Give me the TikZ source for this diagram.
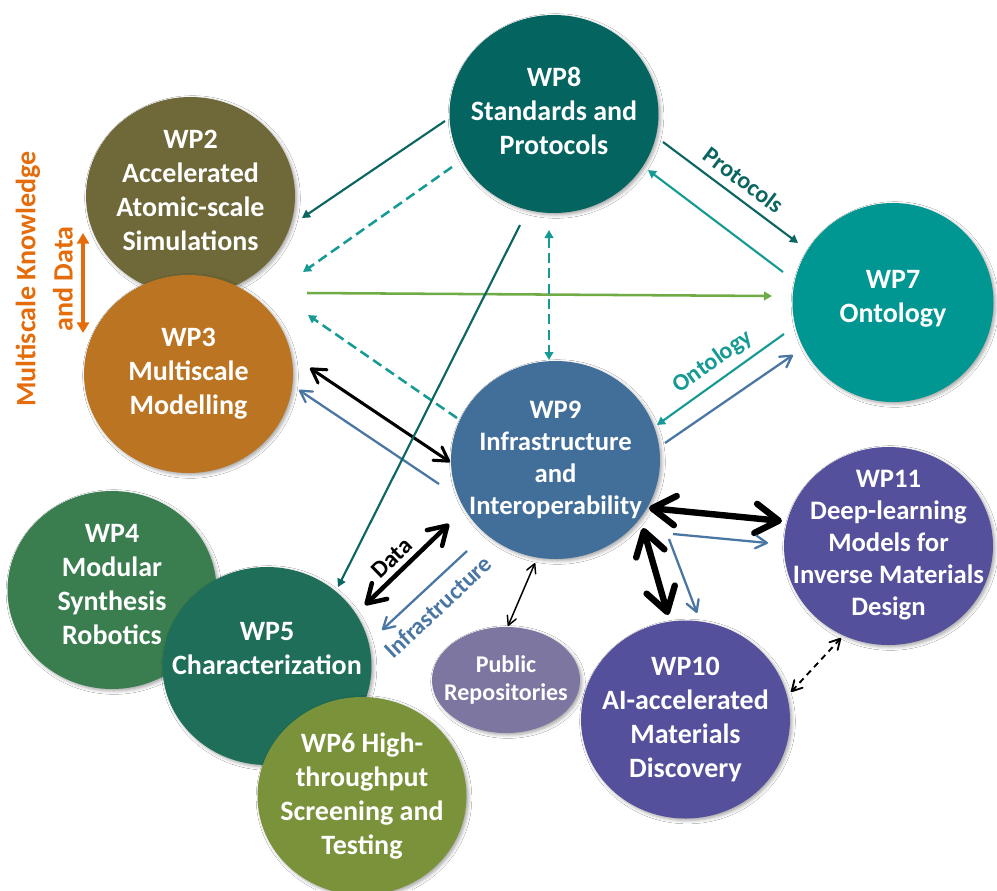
\documentclass[tikz,border=0pt]{standalone}
\usepackage{fontspec}
\setmainfont{Carlito}
\usetikzlibrary{shapes.geometric,arrows.meta,shadows.blur}
\newlength\upx
\setlength\upx{0.75pt}
\definecolor{cwpii}{HTML}{6F6838}
\definecolor{cwpiii}{HTML}{BB7421}
\definecolor{cwpiv}{HTML}{3A7E50}
\definecolor{cwpv}{HTML}{1E6E5A}
\definecolor{cwpvi}{HTML}{7A923A}
\definecolor{cwpvii}{HTML}{009691}
\definecolor{cwpviii}{HTML}{036460}
\definecolor{cwpix}{HTML}{426E9A}
\definecolor{cwpx}{HTML}{54509B}
\definecolor{cpub}{HTML}{7C76A0}
\definecolor{corange}{HTML}{E46C0A}
\definecolor{cgreen}{HTML}{6FAC46}
\definecolor{cblue}{HTML}{4A76A4}
\definecolor{cteal}{HTML}{159A94}
\definecolor{cdkteal}{HTML}{0B6662}
\tikzset{
  obarb/.tip={Straight Barb[length=3.5pt 2.9,width=2.8pt 4,round]},
  ftri/.tip={Triangle[length=6pt,width=6.5pt]},
  otri/.tip={Triangle[length=8pt,width=9pt]},
  wp/.style={ellipse, inner sep=0pt, minimum width=209\upx, minimum height=198\upx,
    blur shadow={shadow xshift=1.5pt, shadow yshift=-1.5pt, shadow blur radius=2.5pt, shadow opacity=35}},
  wptext/.style={inner sep=0pt, text=white, align=center, font=\bfseries\fontsize{21}{25.5}\selectfont},
  wptextsmall/.style={wptext, font=\bfseries\fontsize{20}{24}\selectfont},
  lbl/.style={font=\bfseries\fontsize{18}{21}\selectfont, inner sep=0pt},
  dktealline/.style={draw=cdkteal, line width=1.6pt},
  tealline/.style={draw=cteal, line width=1.6pt},
  tealdash/.style={draw=cteal, line width=1.9pt, dash pattern=on 7.5pt off 4pt},
  blueline/.style={draw=cblue, line width=1.7pt},
  greenline/.style={draw=cgreen, line width=1.9pt},
}
\begin{document}
\begin{tikzpicture}[x=0.75pt,y=-0.75pt]
\clip (0,0) rectangle (997,890);
\fill[white] (0,0) rectangle (997,890);
% circles
\node[wp, fill=cwpii] (wp2) at (190.5,196) {};
\node[wptext] (wp2t) at ([yshift=4pt]wp2.center) {WP2\\Accelerated\\Atomic-scale\\Simulations};
\node[wp, fill=cwpiii] (wp3) at (188.5,374) {};
\node[wptext] (wp3t) at (wp3.center) {WP3\\Multiscale\\Modelling};
\node[wp, fill=cwpiv] (wp4) at (112,590) {};
\node[wptext] (wp4t) at ([yshift=4pt]wp4.center) {WP4\\Modular\\Synthesis\\Robotics};
\node[wp, fill=cwpv] (wp5) at (267,666) {};
\node[wptext] (wp5t) at ([yshift=13pt]wp5.center) {WP5\\Characterization};
\node[wp, fill=cwpvi] (wp6) at (362,796) {};
\node[wptext] (wp6t) at (wp6.center) {WP6 High-\\throughput\\Screening and\\Testing};
\node[wp, fill=cwpviii] (wp8) at (554,114) {};
\node[wptext] (wp8t) at ([yshift=2.5pt]wp8.center) {WP8\\Standards and\\Protocols};
\node[wp, fill=cwpvii, minimum width=201\upx, minimum height=199\upx] (wp7) at (893,302.5) {};
\node[wptext] (wp7t) at ([yshift=2.5pt]wp7.center) {WP7\\Ontology};
\node[wp, fill=cwpix] (wp9) at (555.5,460) {};
\node[wptextsmall] (wp9t) at (wp9.center) {WP9\\Infrastructure\\and\\Interoperability};
\node[wp, fill=cwpx] (wp11) at (888.5,546) {};
\node[wptextsmall] (wp11t) at ([yshift=1pt]wp11.center) {WP11\\Deep-learning\\Models for\\Inverse Materials\\Design};
\node[wp, fill=cwpx] (wp10) at (685.5,719.5) {};
\node[wptext] (wp10t) at (wp10.center) {WP10\\AI-accelerated\\Materials\\Discovery};
\node[wp, fill=cpub, minimum width=148\upx, minimum height=106\upx] (pub) at (506,680) {};
\node[wptext, font=\bfseries\fontsize{18}{21}\selectfont] (pubt) at (pub.center) {Public\\Repositories};
% multiscale arrow
\coordinate (msk1) at (83,233);
\coordinate (msk2) at (83,333);
\draw[draw=corange, line width=2.6pt, otri-otri] (msk1) -- (msk2);
\node[lbl, text=corange, rotate=90, font=\bfseries\fontsize{21}{25.5}\selectfont] (mslbla) at (28,279) {Multiscale Knowledge};
\node[lbl, text=corange, rotate=90, font=\bfseries\fontsize{21}{25.5}\selectfont] (mslblb) at (63,279) {and Data};
% connectors
\draw[dktealline, -ftri] ([shift={(-109,7)}]wp8.center) -- ([shift={(111.5,22)}]wp2.center);
\draw[tealdash, -ftri] ([shift={(-102,53)}]wp8.center) -- ([shift={(112.5,76)}]wp2.center);
\draw[greenline, -ftri] ([shift={(118.5,-81)}]wp3.center) -- ([shift={(-121,-6.5)}]wp7.center);
\draw[tealdash, -ftri] ([shift={(-98.5,-42)}]wp9.center) -- ([shift={(119.5,-59)}]wp3.center);
\draw[black, line width=2.3pt, obarb-obarb] ([shift={(121.5,-6)}]wp3.center) -- ([shift={(-105.5,2)}]wp9.center);
\draw[blueline, -obarb] ([shift={(-116.5,24)}]wp9.center) -- ([shift={(110.5,16)}]wp3.center);
\draw[dktealline, -ftri] ([shift={(-34,111)}]wp8.center) -- ([shift={(71,-79)}]wp5.center);
\draw[dktealline, -ftri] ([shift={(109,28)}]wp8.center) -- ([shift={(-95,-59.5)}]wp7.center);
\draw[tealline, -ftri] ([shift={(-110,-30.5)}]wp7.center) -- ([shift={(94,56)}]wp8.center);
\draw[tealdash, ftri-ftri] ([shift={(-5,116)}]wp8.center) -- ([shift={(-6.5,-100)}]wp9.center);
\draw[tealline, -ftri] ([shift={(-109,31.5)}]wp7.center) -- ([shift={(101.5,-35)}]wp9.center);
\draw[blueline, -obarb] ([shift={(109.5,-17)}]wp9.center) -- ([shift={(-100,52.5)}]wp7.center);
\draw[black, line width=3.4pt, obarb-obarb] ([shift={(-106.5,64)}]wp9.center) -- ([shift={(98,-61)}]wp5.center);
\draw[blueline, -obarb] ([shift={(-88.5,91)}]wp9.center) -- ([shift={(115,-36)}]wp5.center);
\draw[black, line width=1.1pt, obarb-obarb] ([shift={(-20.5,103)}]wp9.center) -- ([shift={(2,-54)}]pub.center);
\draw[black, line width=4.8pt, obarb-obarb] ([shift={(93.5,48)}]wp9.center) -- ([shift={(-106.5,-25)}]wp11.center);
\draw[blueline, -obarb] ([shift={(117.5,74)}]wp9.center) -- ([shift={(-120.5,-3)}]wp11.center);
\draw[black, line width=4.8pt, obarb-obarb] ([shift={(87.5,68)}]wp9.center) -- ([shift={(-17.5,-104.5)}]wp10.center);
\draw[blueline, -obarb] ([shift={(113.5,79)}]wp9.center) -- ([shift={(11.5,-106.5)}]wp10.center);
\draw[black, line width=1.4pt, dash pattern=on 4.5pt off 3.5pt, obarb-obarb] ([shift={(105.5,-27.5)}]wp10.center) -- ([shift={(-47.5,92)}]wp11.center);
% labels
\node[lbl, text=cdkteal, rotate=-37] (lblprot) at (744,180) {Protocols};
\node[lbl, text=cteal, rotate=35.6] (lblont) at (713,362) {Ontology};
\node[lbl, text=black, rotate=44] (lbldata) at (392,558) {Data};
\node[lbl, text=cblue, rotate=43] (lblinfra) at (438,607) {Infrastructure};
\end{tikzpicture}
\end{document}
